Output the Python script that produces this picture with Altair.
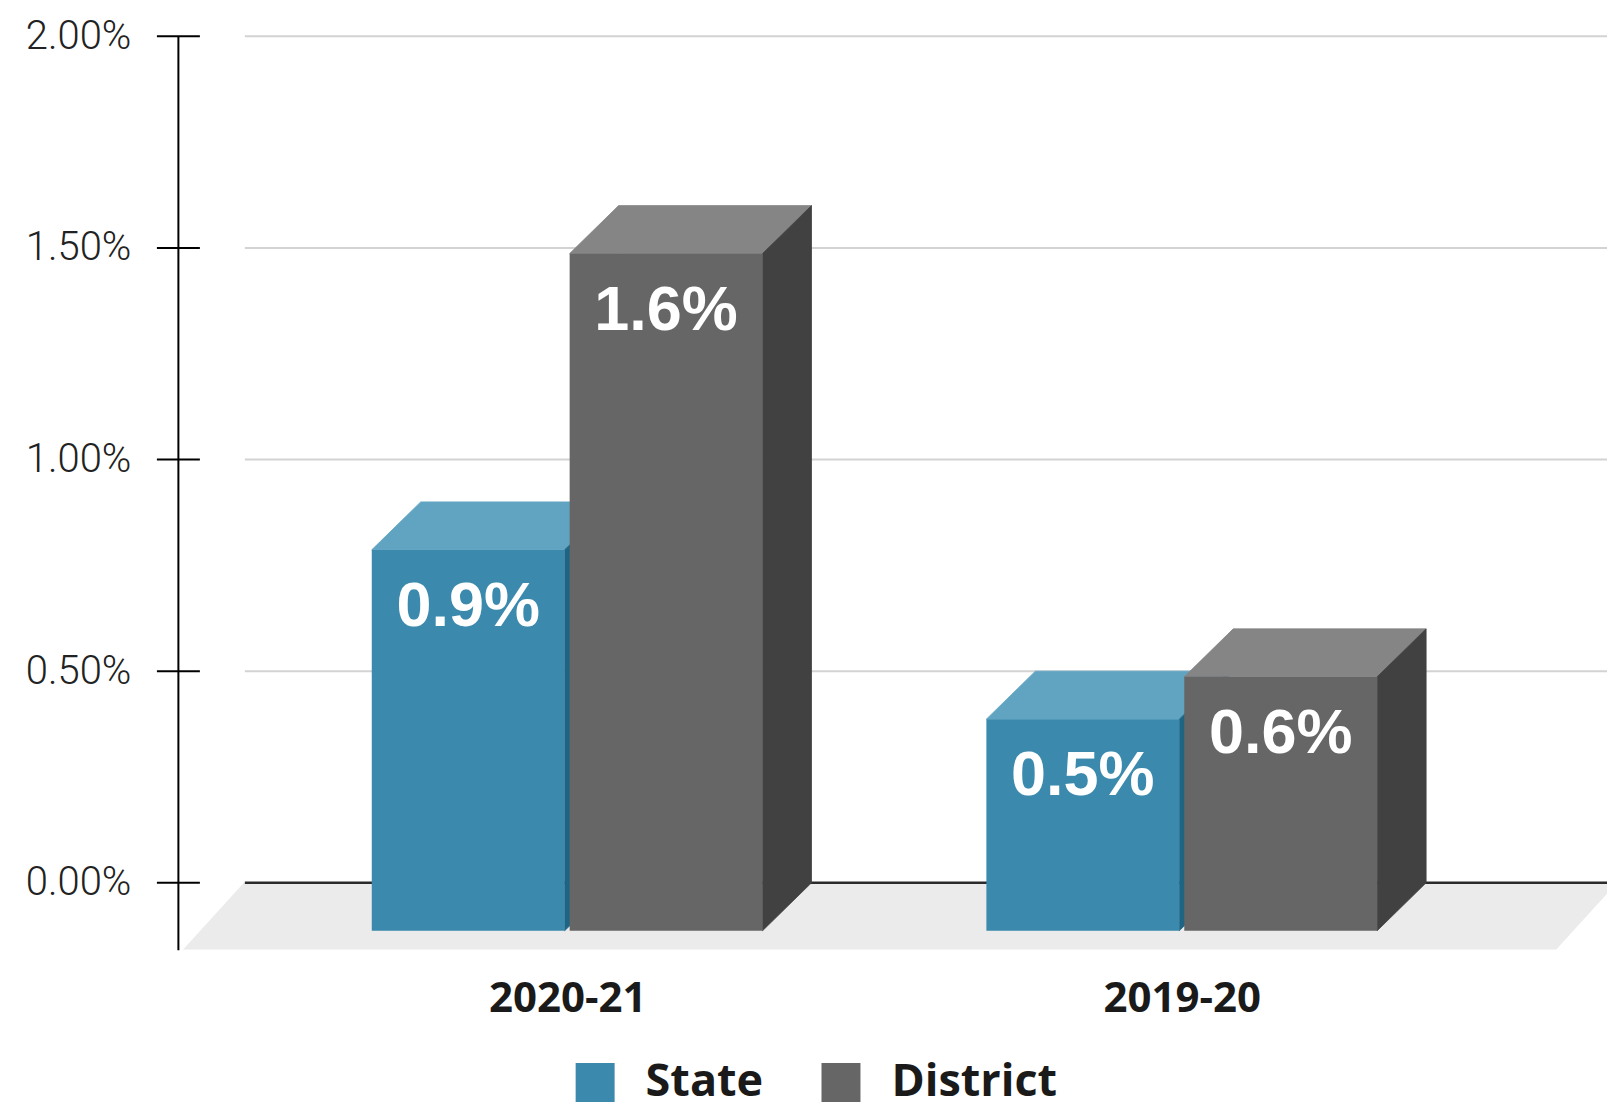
import json
import altair as alt
import pandas as pd

# ---------------- data ----------------
categories = ["2020-21", "2019-20"]
series_names = ["State", "District"]
state_values = [0.9, 0.5]
district_values = [1.6, 0.6]
y_tick_values = [0.0, 0.5, 1.0, 1.5, 2.0]

# ---------------- styling / layout ----------------
W, H = 1430, 914
PX_PER_UNIT = 615.0          # pixels between category centres
CENTER0 = 389.5              # pixel of first category centre
X_MIN = -CENTER0 / PX_PER_UNIT
X_MAX = (W - CENTER0) / PX_PER_UNIT
PX_PER_PCT = 423.5
Y_MIN = -67 / PX_PER_PCT
Y_MAX = 2.0

DX = 49 / PX_PER_UNIT        # 3-D depth (horizontal)
DY = 48 / PX_PER_PCT         # 3-D depth (vertical)
BAR_W = 193 / PX_PER_UNIT
HALF_GAP = 2.5 / PX_PER_UNIT
LABEL_DROP = 76 / PX_PER_PCT

FRONT = {"State": "#3b8aae", "District": "#666666"}
TOP = {"State": "#60a4c2", "District": "#858585"}
SIDE = {"State": "#1f6483", "District": "#414141"}

# floor geometry (pixel offsets converted to x units)
FL_A = (183 - 178 - CENTER0) / PX_PER_UNIT
FL_B = (244 - 178 - CENTER0) / PX_PER_UNIT
FL_C = (1557 - 178 - CENTER0) / PX_PER_UNIT
FL_D = FL_C + (FL_B - FL_A)

values = {"State": state_values, "District": district_values}

front_rows = {s: [] for s in series_names}
face_rows = {s: [] for s in series_names}
label_rows = []
for i, cat in enumerate(categories):
    for s in series_names:
        v = values[s][i]
        if s == "State":
            x0, x1 = i - HALF_GAP - BAR_W, i - HALF_GAP
        else:
            x0, x1 = i + HALF_GAP, i + HALF_GAP + BAR_W
        front_rows[s].append({"Series": s, "x0": x0, "x1": x1, "y0": -DY, "y1": v - DY})
        top_id = f"{cat}-{s}-top"
        for x, lo, hi in [(x0, v - DY, v - DY), (x0 + DX, v - DY, v),
                          (x1, v - DY, v), (x1 + DX, v, v)]:
            face_rows[s].append({"face": top_id, "x": x, "lo": lo, "hi": hi, "col": TOP[s]})
        side_id = f"{cat}-{s}-side"
        for x, lo, hi in [(x1, -DY, v - DY), (x1 + DX, 0.0, v)]:
            face_rows[s].append({"face": side_id, "x": x, "lo": lo, "hi": hi, "col": SIDE[s]})
        label_rows.append({"x": (x0 + x1) / 2, "y": v - DY - LABEL_DROP,
                           "label": f"{v}%"})

floor_df = pd.DataFrame({
    "x": [FL_A, FL_B, FL_C, FL_D],
    "lo": [Y_MIN, Y_MIN, Y_MIN, 0.0],
    "hi": [Y_MIN, 0.0, 0.0, 0.0],
})
grid_df = pd.DataFrame({"v": [t for t in y_tick_values if t != 0]})
zero_df = pd.DataFrame({"v": [0.0]})
tick_df = pd.DataFrame({"v": y_tick_values})

X_SCALE = alt.Scale(domain=[X_MIN, X_MAX], nice=False, zero=False)
Y_SCALE = alt.Scale(domain=[Y_MIN, Y_MAX], nice=False, zero=False)
X_AXIS = alt.Axis(
    values=[0, 1], labelExpr=f"{json.dumps(categories)}[datum.value]", title=None,
    domain=False, ticks=False, tickSize=0, grid=False, labelPadding=62,
    labelBaseline="alphabetic", labelFont="Open Sans", labelFontSize=42,
    labelFontWeight="bold", labelColor="#1a1a1a", labelAngle=0, labelFlush=False,
    labelOverlap=False,
)
Y_AXIS = alt.Axis(
    values=y_tick_values, labelExpr="format(datum.value, '.2f') + '%'", title=None,
    grid=False, ticks=False, domainColor="#000000", domainWidth=2, labelPadding=47,
    labelFont="Roboto", labelFontWeight=300, labelFontSize=40, labelColor="#222222",
    labelFlush=False, labelOverlap=False, labelBaseline="middle",
)


def X(field):
    return alt.X(field, type="quantitative", scale=X_SCALE, axis=X_AXIS)


def Y(field):
    return alt.Y(field, type="quantitative", scale=Y_SCALE, axis=Y_AXIS)


COLOR = alt.Color(
    "Series:N",
    scale=alt.Scale(domain=series_names, range=[FRONT[s] for s in series_names]),
    legend=alt.Legend(
        title=None, orient="none", legendX=395, legendY=1024, direction="horizontal",
        symbolType="square", symbolSize=1521, symbolStrokeWidth=0, symbolOpacity=1,
        labelFont="Open Sans", labelFontSize=45, labelFontWeight="bold",
        labelColor="#1a1a1a", labelOffset=28, columnPadding=55, padding=0,
        labelLimit=0,
    ),
)

floor = alt.Chart(floor_df).mark_area(clip=True, color="#ebebeb").encode(
    x=X("x"), y=Y("hi"), y2="lo"
)
grid = alt.Chart(grid_df).mark_rule(color="#d3d3d3", strokeWidth=2).encode(
    x=alt.value(67), x2=alt.value(W), y=Y("v")
)
zero = alt.Chart(zero_df).mark_rule(color="#2b2b2b", strokeWidth=2.5).encode(
    x=alt.value(67), x2=alt.value(W), y=Y("v")
)

bar_layers = []
for s in series_names:
    faces = alt.Chart(pd.DataFrame(face_rows[s])).mark_area(strokeWidth=0.8).encode(
        x=X("x"), y=Y("hi"), y2="lo", detail="face:N",
        fill=alt.Fill("col:N", scale=None), stroke=alt.Stroke("col:N", scale=None),
    )
    front = alt.Chart(pd.DataFrame(front_rows[s])).mark_rect().encode(
        x=X("x0"), x2="x1", y=Y("y0"), y2="y1", color=COLOR
    )
    bar_layers += [faces, front]

labels = alt.Chart(pd.DataFrame(label_rows)).mark_text(
    font="Liberation Sans", fontSize=63, fontWeight="bold", color="white",
    align="center", baseline="alphabetic",
).encode(x=X("x"), y=Y("y"), text="label:N")

ticks = alt.Chart(tick_df).mark_rule(color="#000000", strokeWidth=2).encode(
    x=alt.value(-21), x2=alt.value(22), y=Y("v")
)

chart = alt.layer(floor, grid, zero, *bar_layers, labels, ticks).properties(
    width=W, height=H,
    autosize=alt.AutoSizeParams(type="none"),
    padding={"left": 170, "top": 28, "right": 0, "bottom": 162},
).configure_view(stroke=None)

chart.save("out.html", embed_options={"renderer": "svg", "actions": False})
